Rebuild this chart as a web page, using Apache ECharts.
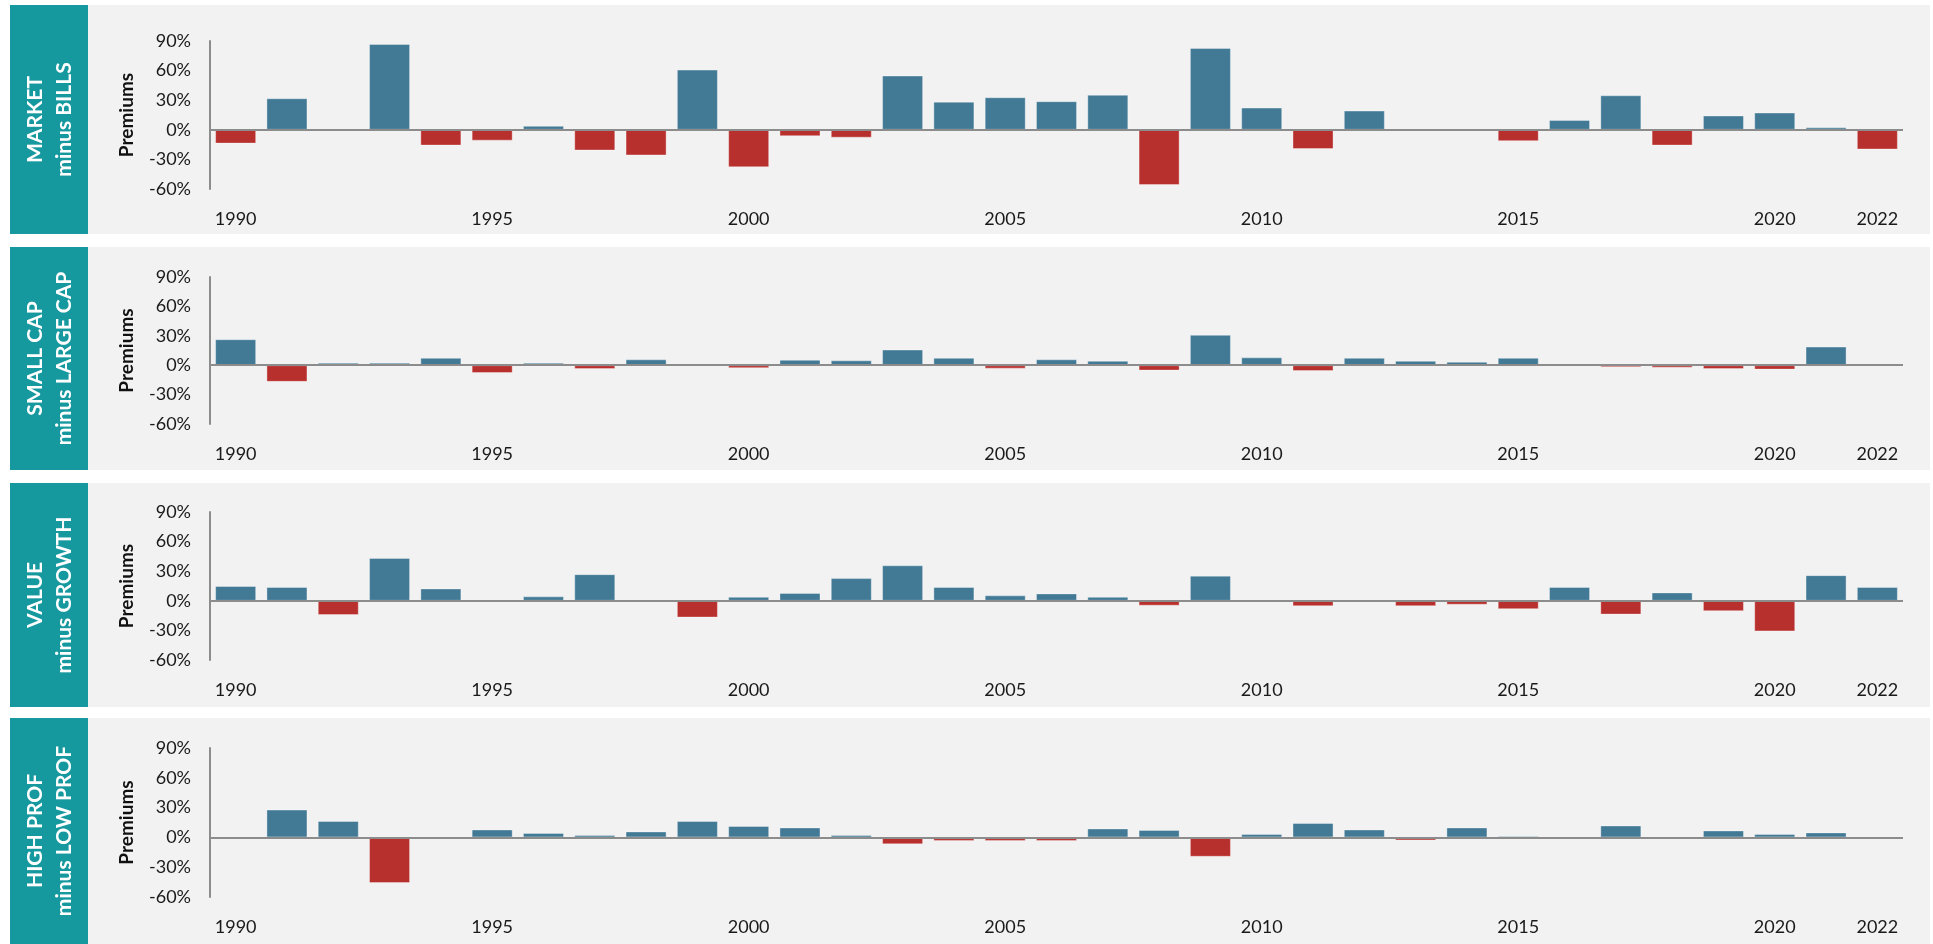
<!DOCTYPE html>
<html>
<head>
<meta charset="utf-8">
<title>Annual premiums 1990-2022</title>
<script src="https://cdn.jsdelivr.net/npm/echarts@6/dist/echarts.min.js"></script>
<style>
  html, body { margin: 0; padding: 0; background: #fff; }
  #chart { width: 1933px; height: 944px; }
</style>
</head>
<body>
<div id="chart"></div>
<script>
// years on the x axis
const years = []
for (let y = 1990; y <= 2022; y++) years.push(String(y))
const shownYears = ['1990', '1995', '2000', '2005', '2010', '2015', '2020', '2022']

// y axis ticks (percent)
const yMin = -60
const yMax = 90
const yStep = 30

// premiums in %
const marketMinusBills = [
  -14, 32, 0, 87, -16, -11, 4, -21, -26, 61,
  -38, -6.5, -8, 55, 28.5, 33, 29, 35.5, -56, 83,
  22.5, -19.5, 19.5, 0, 0, -11.5, 10, 35, -16, 14.5,
  17.5, 2.5, -20
]
const smallMinusLarge = [
  26.5, -17, 2.5, 2.5, 7.5, -8, 2.5, -4, 6, 0,
  -3, 5.5, 5, 16, 7.5, -3.5, 6, 4.5, -5.5, 31,
  8, -6, 7.5, 4.5, 3.5, 7.5, 1.5, -2, -2.5, -4,
  -4.5, 19, 0
]
const valueMinusGrowth = [
  15, 14, -14.5, 43.5, 12.5, -1, 4.5, 27, 0, -17,
  4, 8, 23, 36, 14, 5.5, 7.5, 4, -5, 25.5,
  0, -5.5, 0, -5.5, -4, -8.5, 14, -14, 8.5, -10.5,
  -31, 26, 14
]
const highMinusLowProf = [
  0, 28, 16.5, -46, 0, 8, 4.5, 2.5, 6, 16.5,
  11.5, 10, 2.5, -7, -3.5, -3.5, -3.5, 9, 7.5, -19.5,
  3.5, 14.5, 8, -3, 10, 1.5, -1.5, 12, -1.5, 7,
  3.5, 5, -1
]

const panels = [
  { title: 'MARKET\nminus BILLS', data: marketMinusBills, bgTop: 5, bgH: 229, top: 41, h: 148 },
  { title: 'SMALL CAP\nminus LARGE CAP', data: smallMinusLarge, bgTop: 247, bgH: 223, top: 277, h: 147 },
  { title: 'VALUE\nminus GROWTH', data: valueMinusGrowth, bgTop: 483, bgH: 224, top: 512, h: 148 },
  { title: 'HIGH PROF\nminus LOW PROF', data: highMinusLowProf, bgTop: 718, bgH: 226, top: 748, h: 149 }
]

const BLUE = '#427a96'
const RED = '#b8302e'
const TEAL = '#16989f'
const FONT = 'Lato'

const chart = echarts.init(document.getElementById('chart'))

const grid = []
const xAxis = []
const yAxis = []
const series = []
const graphic = []

panels.forEach((p, i) => {
  grid.push({ left: 210, right: 30, top: p.top, height: p.h })

  xAxis.push({
    type: 'category',
    gridIndex: i,
    data: years,
    axisLine: { show: false },
    axisTick: { show: false },
    axisLabel: {
      interval: (idx, val) => shownYears.indexOf(val) >= 0,
      margin: 21,
      fontFamily: FONT,
      fontSize: 18,
      color: '#1a1a1a'
    }
  })

  yAxis.push({
    type: 'value',
    gridIndex: i,
    min: yMin,
    max: yMax,
    interval: yStep,
    name: 'Premiums',
    nameLocation: 'middle',
    nameRotate: 90,
    nameGap: 74,
    nameTextStyle: { fontFamily: FONT, fontSize: 19, fontWeight: 'bold', color: '#111' },
    axisLine: { show: true, lineStyle: { color: '#8c8c8c', width: 2 } },
    axisTick: { show: false },
    splitLine: { show: false },
    axisLabel: {
      formatter: '{value}%',
      margin: 19,
      fontFamily: FONT,
      fontSize: 18,
      color: '#1a1a1a'
    }
  })

  series.push({
    type: 'bar',
    xAxisIndex: i,
    yAxisIndex: i,
    data: p.data,
    barCategoryGap: '20%',
    itemStyle: {
      color: (d) => (d.value >= 0 ? BLUE : RED),
      borderColor: 'rgba(255,255,255,0.35)',
      borderWidth: 1
    },
    markLine: {
      silent: true,
      symbol: 'none',
      label: { show: false },
      lineStyle: { color: '#8c8c8c', width: 2, type: 'solid' },
      data: [{ yAxis: 0 }]
    },
    animation: false
  })

  // grey panel background and teal title box
  graphic.push({
    type: 'rect',
    z: -10,
    shape: { x: 10, y: p.bgTop, width: 1920, height: p.bgH },
    style: { fill: '#f2f2f2' }
  })
  graphic.push({
    type: 'rect',
    z: -5,
    shape: { x: 10, y: p.bgTop, width: 78, height: p.bgH },
    style: { fill: TEAL }
  })
  graphic.push({
    type: 'text',
    z: 10,
    x: 50,
    y: p.bgTop + p.bgH / 2,
    rotation: Math.PI / 2,
    style: {
      text: p.title,
      fill: '#fff',
      font: 'bold 21px ' + FONT,
      align: 'center',
      verticalAlign: 'middle',
      lineHeight: 29
    }
  })
})

chart.setOption({
  animation: false,
  grid,
  xAxis,
  yAxis,
  series,
  graphic
})
</script>
</body>
</html>
